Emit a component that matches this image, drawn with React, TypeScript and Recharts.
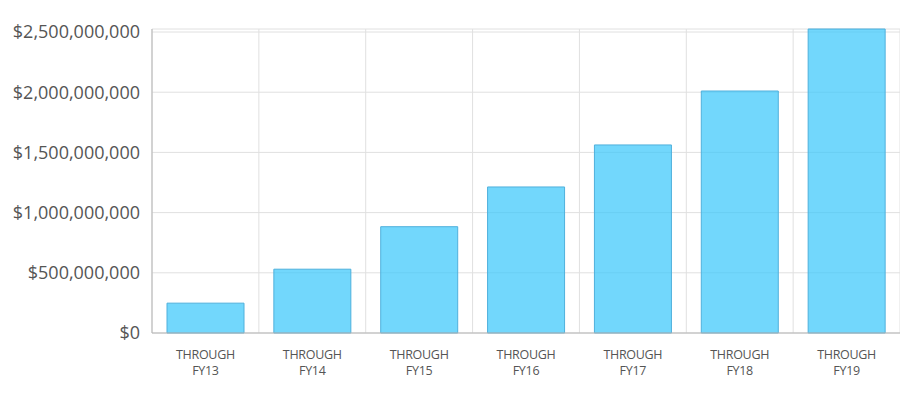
import { BarChart, Bar, XAxis, YAxis, CartesianGrid } from 'recharts'

const years = ['FY13', 'FY14', 'FY15', 'FY16', 'FY17', 'FY18', 'FY19']
const totals = [248000000, 530000000, 883000000, 1213000000, 1562000000, 2010000000, 2525000000]
const yTicks = [0, 500000000, 1000000000, 1500000000, 2000000000, 2500000000]

const data = years.map((fy, i) => ({ fy, total: totals[i] }))

const money = (v: number) => '$' + v.toLocaleString('en-US')

function XTick({ x, y, payload }: any) {
  return (
    <text x={x} y={y} textAnchor="middle" fill="#555" fontSize={12.5} fontFamily="'Open Sans', sans-serif" letterSpacing={-0.3}>
      <tspan x={x} dy={18}>THROUGH</tspan>
      <tspan x={x} dy={15.5}>{payload.value}</tspan>
    </text>
  )
}

export default function App() {
  const n = years.length
  return (
    <div style={{ position: 'absolute', left: 0, top: 0, width: 900, height: 393, background: '#fff' }}>
      <BarChart
        width={900}
        height={393}
        data={data}
        margin={{ top: 29, right: 0, bottom: 0, left: 0 }}
        barCategoryGap={15}
      >
        <CartesianGrid
          stroke="#e0e0e0"
          verticalCoordinatesGenerator={({ offset }: any) =>
            Array.from({ length: n + 1 }, (_, i) => offset.left + (i * offset.width) / n)
          }
        />
        <XAxis
          dataKey="fy"
          height={60}
          tickLine={false}
          axisLine={{ stroke: '#b5b5b5' }}
          tick={<XTick />}
          interval={0}
        />
        <YAxis
          width={152}
          domain={[0, 2525000000]}
          ticks={yTicks}
          tickFormatter={money}
          tickLine={false}
          tickSize={0}
          tickMargin={12}
          axisLine={{ stroke: '#b5b5b5' }}
          tick={{ fill: '#555', fontSize: 18, fontFamily: "'Open Sans', sans-serif" }}
        />
        <Bar
          dataKey="total"
          fill="#3cc8fb"
          fillOpacity={0.72}
          stroke="#4fb0dc"
          strokeWidth={1}
          isAnimationActive={false}
        />
      </BarChart>
    </div>
  )
}
